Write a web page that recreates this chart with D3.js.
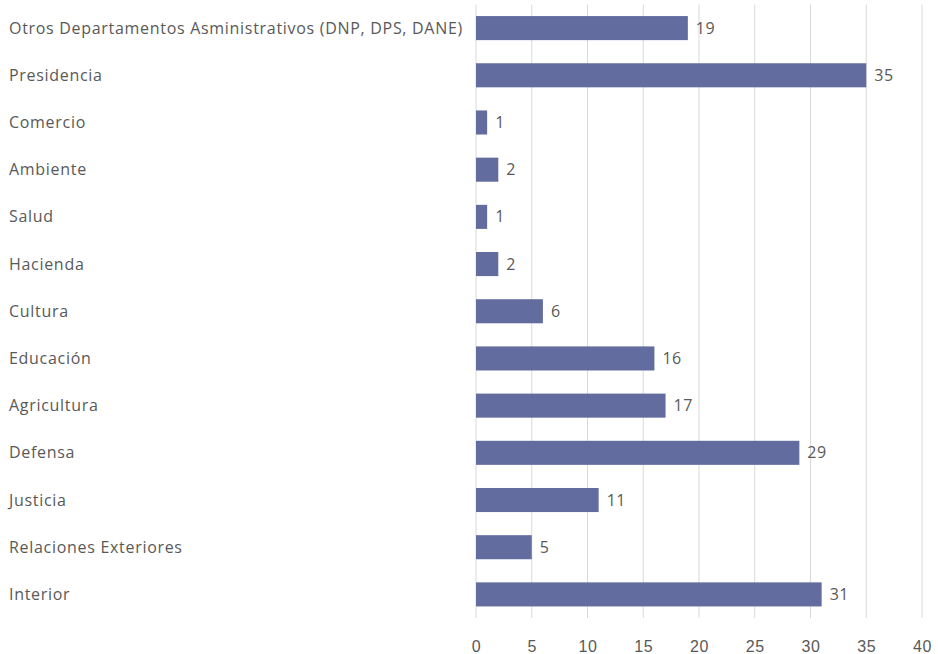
<!DOCTYPE html>
<html>
<head>
<meta charset="utf-8">
<script src="https://cdn.jsdelivr.net/npm/d3@7"></script>
<style>
  body { margin: 0; background: #fff; }
  svg { display: block; font-family: "Open Sans", sans-serif; }
  .cat { font-size: 16px; fill: #595959; letter-spacing: 0.7px; }
  .val { font-size: 16px; fill: #595959; letter-spacing: 0.5px; }
  .tick text { font-size: 16px; fill: #595959; letter-spacing: 0.5px; }
</style>
</head>
<body>
<div id="chart"></div>
<script>
// data
const categories = [
  "Otros Departamentos Asministrativos (DNP, DPS, DANE)",
  "Presidencia",
  "Comercio",
  "Ambiente",
  "Salud",
  "Hacienda",
  "Cultura",
  "Educación",
  "Agricultura",
  "Defensa",
  "Justicia",
  "Relaciones Exteriores",
  "Interior",
];
const values = [19, 35, 1, 2, 1, 2, 6, 16, 17, 29, 11, 5, 31];
const xTicks = [0, 5, 10, 15, 20, 25, 30, 35, 40];

const width = 938;
const height = 654;
const margin = { top: 4.5, right: 16, bottom: 36, left: 476 };

const svg = d3
  .select("#chart")
  .append("svg")
  .attr("width", width)
  .attr("height", height);

// scales
const x = d3
  .scaleLinear()
  .domain([0, 40])
  .range([margin.left, width - margin.right]);

const y = d3
  .scaleBand()
  .domain(categories)
  .range([margin.top, height - margin.bottom])
  .paddingInner(0.49)
  .paddingOuter(0.245);

// gridlines
svg
  .append("g")
  .selectAll("line")
  .data(xTicks)
  .enter()
  .append("line")
  .attr("x1", (d) => x(d))
  .attr("x2", (d) => x(d))
  .attr("y1", margin.top)
  .attr("y2", height - margin.bottom)
  .attr("stroke", "#d9d9d9")
  .attr("stroke-width", 1);

// x axis labels
const xAxis = svg
  .append("g")
  .attr("transform", `translate(0, ${height - margin.bottom + 15})`)
  .call(d3.axisBottom(x).tickValues(xTicks).tickSize(0).tickPadding(8));
xAxis.select(".domain").remove();

// bars
svg
  .append("g")
  .selectAll("rect")
  .data(values)
  .enter()
  .append("rect")
  .attr("x", x(0))
  .attr("y", (d, i) => y(categories[i]))
  .attr("width", (d) => x(d) - x(0))
  .attr("height", y.bandwidth())
  .attr("fill", "#636c9f");

// value labels
svg
  .append("g")
  .selectAll("text")
  .data(values)
  .enter()
  .append("text")
  .attr("class", "val")
  .attr("x", (d) => x(d) + 8)
  .attr("y", (d, i) => y(categories[i]) + y.bandwidth() / 2)
  .attr("dy", "0.35em")
  .text((d) => d);

// category labels
svg
  .append("g")
  .selectAll("text")
  .data(categories)
  .enter()
  .append("text")
  .attr("class", "cat")
  .attr("x", 9)
  .attr("y", (d) => y(d) + y.bandwidth() / 2)
  .attr("dy", "0.35em")
  .text((d) => d);
</script>
</body>
</html>
